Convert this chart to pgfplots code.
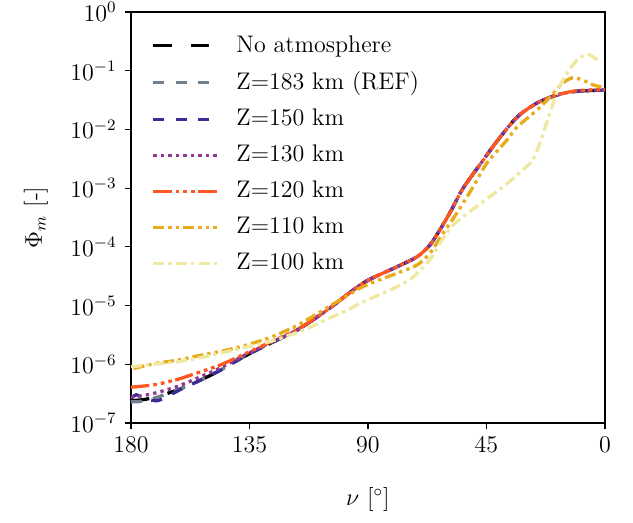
\documentclass[border=0pt,12pt]{standalone}
\usepackage{pgfplots}
\pgfplotsset{compat=1.18}
\definecolor{cgray}{RGB}{112,128,144}
\definecolor{cblue}{RGB}{59,44,151}
\definecolor{cpurple}{RGB}{142,58,148}
\definecolor{cred}{RGB}{255,87,34}
\definecolor{corange}{RGB}{232,171,26}
\definecolor{cyellow}{RGB}{238,232,160}
\begin{document}
\begin{tikzpicture}
\begin{axis}[
  name=ax,
  scale only axis,
  width=237pt, height=205.5pt,
  x dir=reverse,
  xmin=0, xmax=180,
  xtick={0,45,90,135,180},
  ymode=log, ymin=1e-7, ymax=1,
  ytick={1e-7,1e-6,1e-5,1e-4,1e-3,1e-2,1e-1,1},
  yminorticks=false,
  tick align=outside,
  xtick pos=bottom, ytick pos=left,
  major tick length=3pt,
  axis line style={line width=0.6pt},
  tick style={line width=0.6pt, black},
  xlabel={$\nu$ [$^\circ$]},
  ylabel={$\Phi_m$ [-]},
  xlabel style={yshift=-9pt},
  ylabel style={yshift=3pt},
  legend style={draw=none, fill=none, at={(0.03,0.963)}, anchor=north west, row sep=3.9pt},
  legend cell align=left,
  legend image code/.code={\draw[#1] (0pt,0pt) -- (32pt,0pt); \path[draw=none,fill=none] (39.5pt,0pt) circle (0.1pt);},
  every axis plot/.append style={line width=1.65pt, smooth, tension=0.45},
]
\addplot[black, dash pattern=on 9.2pt off 9.5pt] coordinates {
(180,2.40e-7) (175,2.51e-7) (170,2.82e-7) (162.5,3.63e-7) (155,5.01e-7) (146,7.94e-7)
(137.5,1.32e-6) (127,2.29e-6) (117,3.80e-6) (105.6,8.32e-6) (92,2.40e-5) (79,4.57e-5)
(71.4,6.76e-5) (66.5,1.07e-4) (62.7,1.95e-4) (58.9,3.80e-4) (54,9.77e-4) (47.5,2.51e-3)
(41,6.31e-3) (33.4,1.62e-2) (25.8,2.82e-2) (18,3.89e-2) (10.6,4.47e-2) (0,4.68e-2)};
\addlegendentry{No atmosphere}
\addplot[cgray, dash pattern=on 5.5pt off 5.7pt] coordinates {
(180,2.29e-7) (176,2.34e-7) (170,2.75e-7) (162.5,3.63e-7) (155,5.01e-7) (146,7.94e-7)
(137.5,1.32e-6) (127,2.29e-6) (117,3.80e-6) (105.6,8.32e-6) (92,2.40e-5) (79,4.57e-5)
(71.4,6.76e-5) (66.5,1.07e-4) (62.7,1.95e-4) (58.9,3.80e-4) (54,9.77e-4) (47.5,2.51e-3)
(41,6.31e-3) (33.4,1.62e-2) (25.8,2.82e-2) (18,3.89e-2) (10.6,4.47e-2) (0,4.68e-2)};
\addlegendentry{Z=183 km (REF)}
\addplot[cblue, dash pattern=on 5.5pt off 5.7pt] coordinates {
(180,2.63e-7) (178,3.02e-7) (175,2.63e-7) (170,2.40e-7) (165,3.02e-7) (160,3.98e-7) (155,5.01e-7) (146,7.94e-7)
(137.5,1.32e-6) (127,2.29e-6) (117,3.80e-6) (105.6,8.32e-6) (92,2.40e-5) (79,4.57e-5)
(71.4,6.76e-5) (66.5,1.07e-4) (62.7,1.95e-4) (58.9,3.80e-4) (54,9.77e-4) (47.5,2.51e-3)
(41,6.31e-3) (33.4,1.62e-2) (25.8,2.82e-2) (18,3.89e-2) (10.6,4.47e-2) (0,4.68e-2)};
\addlegendentry{Z=150 km}
\addplot[cpurple, dash pattern=on 1.65pt off 2.1pt] coordinates {
(180,2.75e-7) (175,2.95e-7) (170,3.31e-7) (162.5,4.17e-7) (155,5.75e-7) (146,8.71e-7)
(137.5,1.38e-6) (127,2.34e-6) (117,3.80e-6) (105.6,8.32e-6) (92,2.40e-5) (79,4.57e-5)
(71.4,6.76e-5) (66.5,1.07e-4) (62.7,1.95e-4) (58.9,3.80e-4) (54,9.77e-4) (47.5,2.51e-3)
(41,6.31e-3) (33.4,1.62e-2) (25.8,2.82e-2) (18,3.89e-2) (10.6,4.47e-2) (0,4.68e-2)};
\addlegendentry{Z=130 km}
\addplot[cred, dash pattern=on 9.2pt off 2pt on 1.85pt off 2pt on 1.85pt off 2pt on 1.85pt off 1.7pt] coordinates {
(180,4.07e-7) (175,4.27e-7) (170,4.57e-7) (162.5,5.50e-7) (155,7.08e-7) (146,9.77e-7)
(137.5,1.45e-6) (127,2.40e-6) (117,3.89e-6) (105.6,8.32e-6) (92,2.40e-5) (79,4.57e-5)
(71.4,6.76e-5) (66.5,1.07e-4) (62.7,1.95e-4) (58.9,3.80e-4) (54,9.77e-4) (47.5,2.51e-3)
(41,6.31e-3) (33.4,1.62e-2) (25.8,2.82e-2) (18,3.89e-2) (10.6,4.57e-2) (0,4.79e-2)};
\addlegendentry{Z=120 km}
\addplot[corange, dash pattern=on 5.5pt off 2pt on 1.65pt off 2.2pt on 1.65pt off 2pt] coordinates {
(179,8.51e-7) (175,9.33e-7) (170,1.05e-6) (162.5,1.17e-6) (155,1.38e-6) (146,1.66e-6)
(137.5,2.04e-6) (127,2.88e-6) (117,4.57e-6) (105.6,9.12e-6) (92,2.09e-5) (79,3.55e-5)
(71.4,4.90e-5) (66.5,7.76e-5) (61.5,1.70e-4) (56.2,3.80e-4) (50.1,1.05e-3) (44.8,2.69e-3)
(37.2,6.61e-3) (33.4,1.10e-2) (25.8,2.14e-2) (20.9,3.55e-2) (16,6.17e-2) (12.2,7.59e-2)
(8.4,6.92e-2) (4.6,5.75e-2) (0,5.13e-2)};
\addlegendentry{Z=110 km}
\addplot[cyellow, dash pattern=on 5.5pt off 2pt on 1.65pt off 2.2pt] coordinates {
(180,9.12e-7) (175,9.55e-7) (170,1.02e-6) (162.5,1.10e-6) (155,1.26e-6) (146,1.55e-6)
(137.5,1.91e-6) (127,2.45e-6) (117,3.47e-6) (111,4.47e-6) (104,6.31e-6) (97,8.71e-6)
(92,1.15e-5) (79,2.09e-5) (73,3.02e-5) (66.5,6.03e-5) (62.7,1.15e-4) (57.5,2.40e-4)
(47.5,5.37e-4) (38.5,1.07e-3) (31.2,2.04e-3) (27.4,3.02e-3) (24.7,5.89e-3) (20.9,1.91e-2)
(17.9,4.68e-2) (14.4,9.12e-2) (10.7,1.51e-1) (8,1.82e-1) (5.7,1.86e-1) (1.9,1.41e-1)};
\addlegendentry{Z=100 km}
\end{axis}
\pgfresetboundingbox
\path ([xshift=-65.5pt,yshift=-50pt]ax.south west) rectangle ([xshift=14pt,yshift=6pt]ax.north east);
\end{tikzpicture}
\end{document}
